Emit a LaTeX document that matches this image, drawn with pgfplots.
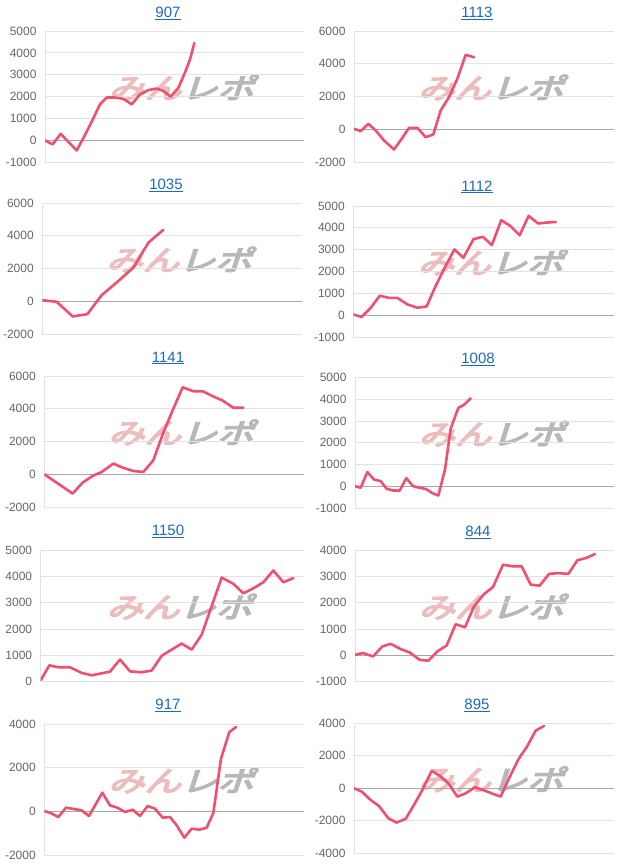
\documentclass[border=0pt]{standalone}
\usepackage{pgfplots}
\pgfplotsset{compat=1.18}
\usepackage{fontspec}
\setmainfont{Liberation Sans}
\newfontfamily\cjk{Noto Sans CJK JP}
\definecolor{linec}{HTML}{F0506E}
\definecolor{gridc}{HTML}{E2E2E2}
\definecolor{zeroc}{HTML}{A8A8A8}
\definecolor{tickc}{HTML}{666666}
\definecolor{linkc}{HTML}{1A6AC0}
\definecolor{wmpink}{HTML}{EDBDBD}
\definecolor{wmgray}{HTML}{B8B8B8}
\pgfplotsset{
  panel/.style={
    set layers,
    scale only axis, enlargelimits=false,
    anchor=south west,
    axis lines=left, axis line style={draw=gridc, line width=0.8pt, -},
    xtick=\empty,
    ymajorgrids, grid style={gridc, line width=0.8pt},
    major tick length=0pt,
    yticklabel style={font=\fontsize{12}{12}\selectfont, text=tickc, xshift=-5pt},
    /pgf/number format/assume math mode=true,
    /pgf/number format/1000 sep={},
    extra y ticks={0}, extra y tick labels={},
    extra y tick style={grid style={zeroc, line width=0.9pt}},
  },
  ser/.style={color=linec, line width=2.6pt, line join=round, line cap=round, mark=none},
}
\newcommand{\wmtext}{\cjk\fontsize{28}{28}\selectfont\special{pdf:literal direct 2 Tr 1.4 w}\textcolor{wmpink}{みん}\textcolor{wmgray}{レポ}\special{pdf:literal direct 0 Tr 0.4 w}}
\newcommand{\wm}{%
  \begin{pgfonlayer}{axis background}
  \node[xscale=1.3, xslant=0.25, inner sep=0pt] at (rel axis cs:0.54,0.57) {\wmtext};
  \end{pgfonlayer}}
\newcommand{\ttl}[3]{\node[font=\fontsize{15}{15}\selectfont, text=linkc] at (#1pt,-#2pt) {\underline{#3}};}
\begin{document}
\begin{tikzpicture}
% 907
\begin{axis}[panel, at={(45pt,-162.3pt)}, width=259pt, height=131.3pt,
  xmin=135, xmax=912, ymin=-1000, ymax=5000, ytick={-1000,0,...,5000}]
\wm
\addplot[ser] coordinates {(135,0) (158,-180) (182,300) (230,-460) (255,250) (278,950) (300,1650) (320,1960) (345,1960) (370,1900) (395,1650) (420,2100) (445,2300) (470,2370) (490,2260) (512,2000) (535,2400) (555,3100) (570,3700) (583,4450)};
\end{axis}
\ttl{168}{13}{907}
% 1113
\begin{axis}[panel, at={(354pt,-162.3pt)}, width=260pt, height=131.3pt,
  xmin=135, xmax=915, ymin=-2000, ymax=6000, ytick={-2000,0,...,6000}]
\wm
\addplot[ser] coordinates {(135,40) (155,-100) (178,345) (200,-60) (225,-670) (255,-1220) (278,-570) (300,100) (325,100) (350,-470) (373,-300) (395,1160) (420,1970) (445,3090) (470,4550) (495,4400)};
\end{axis}
\ttl{477}{13}{1113}
% 1035
\begin{axis}[panel, at={(42.3pt,-334.3pt)}, width=259.7pt, height=131.3pt,
  xmin=127, xmax=905, ymin=-2000, ymax=6000, ytick={-2000,0,...,6000}]
\wm
\addplot[ser] coordinates {(127,80) (170,-20) (218,-910) (262,-770) (305,390) (350,1160) (400,2070) (445,3590) (490,4370)};
\end{axis}
\ttl{166}{185}{1035}
% 1112
\begin{axis}[panel, at={(353.3pt,-337pt)}, width=260.7pt, height=131pt,
  xmin=133, xmax=912, ymin=-1000, ymax=5000, ytick={-1000,0,...,5000}]
\wm
\addplot[ser] coordinates {(133,30) (158,-80) (185,340) (212,890) (240,790) (265,790) (295,490) (325,340) (352,400) (378,1300) (405,2140) (435,3010) (462,2630) (492,3480) (520,3590) (547,3210) (575,4350) (602,4090) (630,3660) (657,4550) (685,4200) (710,4240) (738,4270)};
\end{axis}
\ttl{477}{187}{1112}
% 1141
\begin{axis}[panel, at={(44.3pt,-507pt)}, width=259.7pt, height=131pt,
  xmin=133, xmax=912, ymin=-2000, ymax=6000, ytick={-2000,0,...,6000}]
\wm
\addplot[ser] coordinates {(133,0) (161,-390) (190,-790) (218,-1180) (248,-510) (278,-100) (305,140) (340,650) (370,390) (400,200) (430,140) (460,850) (490,2540) (520,4000) (548,5310) (580,5070) (608,5070) (638,4770) (668,4500) (700,4060) (730,4060)};
\end{axis}
\ttl{168}{358}{1141}
% 1008
\begin{axis}[panel, at={(355pt,-508.3pt)}, width=259pt, height=131pt,
  xmin=138, xmax=915, ymin=-1000, ymax=5000, ytick={-1000,0,...,5000}]
\wm
\addplot[ser] coordinates {(138,15) (155,-60) (175,660) (195,320) (215,245) (233,-110) (253,-185) (272,-185) (292,380) (312,15) (332,-60) (350,-110) (370,-305) (388,-415) (408,780) (425,2650) (448,3600) (465,3740) (485,4040)};
\end{axis}
\ttl{478}{359}{1008}
% 1150
\begin{axis}[panel, at={(40.7pt,-681.3pt)}, width=263.3pt, height=131pt,
  xmin=122, xmax=912, ymin=0, ymax=5000, ytick={0,1000,...,5000}]
\wm
\addplot[ser] coordinates {(122,40) (148,610) (175,535) (210,535) (245,320) (275,230) (305,305) (330,370) (360,830) (390,380) (425,345) (455,410) (485,975) (515,1210) (545,1440) (575,1210) (605,1780) (635,2870) (665,3960) (700,3720) (730,3360) (760,3550) (790,3780) (820,4230) (850,3780) (880,3940)};
\end{axis}
\ttl{168}{531}{1150}
% 844
\begin{axis}[panel, at={(355pt,-681.3pt)}, width=259pt, height=131pt,
  xmin=138, xmax=915, ymin=-1000, ymax=4000, ytick={-1000,0,...,4000}]
\wm
\addplot[ser] coordinates {(138,10) (162,80) (192,-50) (220,330) (245,430) (275,230) (302,100) (332,-180) (358,-215) (385,140) (413,370) (440,1180) (468,1060) (495,1860) (525,2330) (552,2600) (582,3450) (610,3390) (638,3390) (665,2690) (692,2650) (720,3100) (748,3130) (778,3100) (805,3620) (832,3710) (858,3860)};
\end{axis}
\ttl{478}{532}{844}
% 917
\begin{axis}[panel, at={(44.3pt,-855pt)}, width=259.7pt, height=131pt,
  xmin=133, xmax=912, ymin=-2000, ymax=4000, ytick={-2000,0,...,4000}]
\wm
\addplot[ser] coordinates {(133,15) (152,-76) (175,-260) (198,168) (222,107) (245,46) (267,-214) (307,855) (330,275) (352,168) (375,-30) (398,76) (420,-214) (443,244) (465,122) (488,-290) (510,-260) (530,-641) (553,-1206) (575,-794) (598,-840) (620,-748) (640,-76) (663,2412) (688,3634) (708,3863)};
\end{axis}
\ttl{168}{705}{917}
% 895
\begin{axis}[panel, at={(354pt,-853.3pt)}, width=260pt, height=130pt,
  xmin=135, xmax=915, ymin=-4000, ymax=4000, ytick={-4000,-2000,...,4000}]
\wm
\addplot[ser] coordinates {(135,0) (158,-200) (185,-720) (210,-1090) (238,-1840) (262,-2110) (290,-1880) (315,-1020) (340,-100) (368,1070) (393,760) (418,310) (445,-510) (470,-310) (497,60) (522,-100) (548,-310) (575,-510) (600,610) (628,1780) (655,2600) (680,3550) (705,3840)};
\end{axis}
\ttl{477}{705}{895}
\pgfresetboundingbox
\useasboundingbox (0,0) rectangle (618pt,-865pt);
\end{tikzpicture}
\end{document}
